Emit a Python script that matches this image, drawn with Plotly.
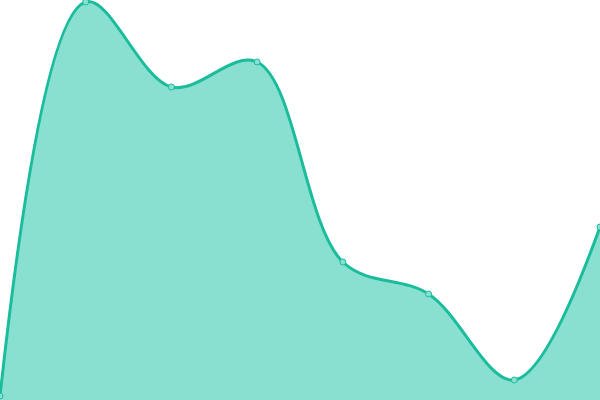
import plotly.graph_objects as go

x_vals = [0, 1, 2, 3, 4, 5, 6, 7]
y_vals = [1, 99.5, 78.25, 84.5, 34.5, 26.5, 5, 43.25]

fig = go.Figure(go.Scatter(
    x=x_vals, y=y_vals, mode="lines+markers",
    line=dict(color="#1abc9c", width=3, shape="spline", smoothing=1),
    fill="tozeroy", fillcolor="#8ae0d0",
    marker=dict(size=6, color="#8ae0d0", line=dict(color="#1abc9c", width=1)),
    hoverinfo="skip",
))
fig.update_layout(
    width=600, height=400, margin=dict(l=0, r=0, t=0, b=0),
    paper_bgcolor="white", plot_bgcolor="white", showlegend=False,
    xaxis=dict(range=[0, 7], visible=False, fixedrange=True),
    yaxis=dict(range=[0, 100], visible=False, fixedrange=True),
)
fig.write_html(
    "out.html",
    config={"displayModeBar": False},
    post_script="document.body.style.margin='0';document.body.style.overflow='hidden';",
)
